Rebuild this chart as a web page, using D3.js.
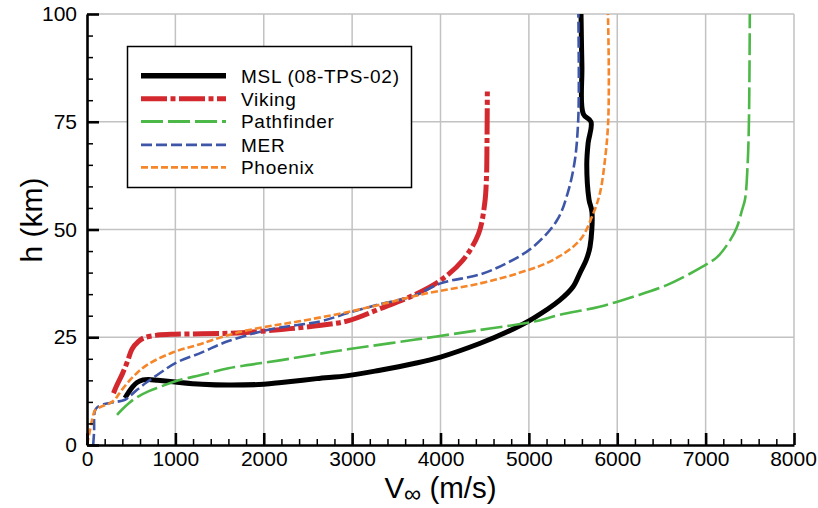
<!DOCTYPE html>
<html>
<head>
<meta charset="utf-8">
<script src="https://cdn.jsdelivr.net/npm/d3@7"></script>
<style>
  html, body { margin: 0; padding: 0; background: #fff; }
  svg { display: block; font-family: "Liberation Sans", Arial, Helvetica, sans-serif; }
</style>
</head>
<body>
<svg id="chart" width="818" height="508"></svg>
<script>
// Entry trajectories: free-stream velocity (m/s) vs altitude (km)
const seriesNames = ["MSL (08-TPS-02)", "Viking", "Pathfinder", "MER", "Phoenix"];

const mslV = [430, 470, 520, 566, 634, 700, 800, 1000, 1300, 1600, 2000, 2200, 2600, 2950, 3300, 3700, 4000, 4450, 4750, 5050, 5350, 5500, 5580, 5650, 5692, 5714, 5680, 5655, 5670, 5703, 5616, 5600, 5590];
const mslH = [10.9, 12.2, 13.6, 14.5, 15.1, 15.2, 15.0, 14.6, 14.1, 13.9, 14.1, 14.5, 15.4, 16.1, 17.3, 18.9, 20.4, 23.6, 26.2, 29.4, 33.6, 36.7, 40, 43, 46, 54, 57, 65, 70, 75, 76.8, 88, 100];

const vikingV = [300, 330, 400, 460, 510, 580, 650, 800, 1000, 1300, 1700, 2200, 2650, 2950, 3300, 3700, 4000, 4250, 4430, 4500, 4520, 4526, 4530];
const vikingH = [12, 13.5, 16.5, 19.5, 22.3, 24, 24.9, 25.5, 25.7, 25.8, 26, 26.8, 27.8, 28.8, 31.5, 34.8, 38.2, 42.8, 49, 56, 62, 70, 82];

const pathfinderV = [340, 400, 480, 566, 700, 826, 1000, 1300, 1600, 2200, 2640, 2950, 3700, 4450, 5050, 5350, 5800, 6180, 6560, 6940, 7130, 7280, 7355, 7412, 7446, 7475, 7490, 7500];
const pathfinderH = [7, 8.3, 9.8, 11.1, 12.5, 13.5, 14.8, 16.3, 17.8, 19.7, 21.2, 22.2, 24.4, 26.7, 28.6, 30.2, 32.1, 34.4, 37.1, 41.1, 43.6, 47.6, 50.6, 54.5, 57, 65, 75, 100];

const merV = [70, 80, 90, 120, 200, 300, 430, 500, 566, 680, 826, 1000, 1300, 1584, 1960, 2200, 2640, 2950, 3300, 3700, 4000, 4450, 4750, 5050, 5320, 5440, 5520, 5555, 5565, 5560];
const merH = [0, 3, 8, 8.8, 9.5, 9.9, 10.5, 11.6, 12.8, 14.6, 16.7, 19, 21.5, 24, 26.3, 27.3, 28.7, 30.6, 32.6, 34.6, 37.5, 39.6, 42.2, 46, 52.2, 58.5, 66, 74, 82, 100];

const phoenixV = [0, 20, 60, 90, 150, 260, 317, 360, 410, 520, 680, 975, 1280, 1650, 2040, 2400, 2940, 3300, 3800, 4450, 4900, 5270, 5580, 5730, 5805, 5860, 5895, 5905, 5895];
const phoenixH = [0, 2, 6, 8, 8.8, 9.7, 10.6, 11.8, 13.2, 15.8, 18.6, 21.5, 23.4, 25.8, 27.5, 28.7, 30.8, 32.5, 35, 37.5, 40, 42.9, 47.6, 53.8, 58.5, 66, 74, 85, 100];

const xTicks = [0, 1000, 2000, 3000, 4000, 5000, 6000, 7000, 8000];
const yTicks = [0, 25, 50, 75, 100];

const seriesV = [mslV, vikingV, pathfinderV, merV, phoenixV];
const seriesH = [mslH, vikingH, pathfinderH, merH, phoenixH];

const styles = [
  { color: "#000000", width: 5,   dash: null },
  { color: "#d3282e", width: 5,   dash: "26,3.5,5,3.5" },
  { color: "#4cb847", width: 2.6, dash: "22,5" },
  { color: "#3e56a8", width: 2.6, dash: "11,4" },
  { color: "#f5862a", width: 2.6, dash: "7,3" }
];

const svg = d3.select("#chart");
const plotLeft = 87, plotRight = 794, plotTop = 14, plotBottom = 445;

const x = d3.scaleLinear().domain([0, 8000]).range([plotLeft, plotRight]);
const y = d3.scaleLinear().domain([0, 100]).range([plotBottom, plotTop]);

// grid
const grid = svg.append("g").attr("stroke", "#c2c2c2").attr("stroke-width", 1.5);
grid.selectAll("line.gx").data(xTicks.filter(d => d > 0)).join("line")
  .attr("class", "gx")
  .attr("x1", d => x(d)).attr("x2", d => x(d)).attr("y1", y(0)).attr("y2", y(100));
grid.selectAll("line.gy").data(yTicks.filter(d => d > 0)).join("line")
  .attr("class", "gy")
  .attr("x1", x(0)).attr("x2", x(8000)).attr("y1", d => y(d)).attr("y2", d => y(d));

// trajectories
const line = d3.line()
  .x(d => x(d[0])).y(d => y(d[1]))
  .curve(d3.curveCatmullRom.alpha(0.5));

seriesNames.forEach((name, i) => {
  const pts = seriesV[i].map((v, k) => [v, seriesH[i][k]]);
  svg.append("path")
    .datum(pts)
    .attr("d", line)
    .attr("fill", "none")
    .attr("stroke", styles[i].color)
    .attr("stroke-width", styles[i].width)
    .attr("stroke-dasharray", styles[i].dash)
    .attr("stroke-linejoin", "round");
});

// minor ticks
const xMinor = d3.range(0, 8001, 200).filter(d => d % 1000 !== 0);
const yMinor = d3.range(0, 101, 5).filter(d => d % 25 !== 0);

const xMinorAxis = svg.append("g").attr("transform", `translate(0,${plotBottom})`)
  .call(d3.axisBottom(x).tickValues(xMinor).tickSize(-6).tickFormat(""));
xMinorAxis.select(".domain").remove();
xMinorAxis.selectAll(".tick line").attr("stroke-width", 1.5);

const yMinorAxis = svg.append("g").attr("transform", `translate(${plotLeft},0)`)
  .call(d3.axisLeft(y).tickValues(yMinor).tickSize(-6).tickFormat(""));
yMinorAxis.select(".domain").remove();
yMinorAxis.selectAll(".tick line").attr("stroke-width", 1.5);

// major axes
const fmt = d3.format("d");
const xAxis = svg.append("g").attr("transform", `translate(0,${plotBottom})`)
  .call(d3.axisBottom(x).tickValues(xTicks).tickFormat(fmt)
    .tickSize(-12).tickSizeOuter(0).tickPadding(6));
const yAxis = svg.append("g").attr("transform", `translate(${plotLeft},0)`)
  .call(d3.axisLeft(y).tickValues(yTicks).tickFormat(fmt)
    .tickSize(-12).tickSizeOuter(0).tickPadding(10));

[xAxis, yAxis].forEach(a => {
  a.select(".domain").attr("stroke-width", 2.6);
  a.selectAll(".tick line").attr("stroke-width", 2.6);
  a.selectAll(".tick text")
    .attr("font-size", 21)
    .attr("font-family", "'Liberation Sans', Arial, sans-serif")
    .attr("fill", "#000");
});
// keep the last label inside the page
xAxis.selectAll(".tick text").filter(d => d === 8000).attr("dx", -1);

// axis titles
const xTitle = svg.append("text")
  .attr("x", x(4000)).attr("y", 498)
  .attr("text-anchor", "middle")
  .attr("font-size", 29.5);
xTitle.append("tspan").text("V");
xTitle.append("tspan").attr("dy", 4).attr("font-size", 24).text("∞");
xTitle.append("tspan").attr("dy", -4).text(" (m/s)");

svg.append("text")
  .attr("transform", "translate(42,220) rotate(-90)")
  .attr("text-anchor", "middle")
  .attr("font-size", 30)
  .text("h (km)");

// legend
const lg = svg.append("g");
lg.append("rect")
  .attr("x", 127.5).attr("y", 46.5).attr("width", 284).attr("height", 141)
  .attr("fill", "#fff").attr("stroke", "#000").attr("stroke-width", 1.5);
const rowY = [75.7, 98.8, 121.5, 144.8, 167.3];
seriesNames.forEach((name, i) => {
  lg.append("line")
    .attr("x1", 141).attr("x2", 226)
    .attr("y1", rowY[i]).attr("y2", rowY[i])
    .attr("stroke", styles[i].color)
    .attr("stroke-width", i === 0 ? 5.5 : (i === 1 ? 5 : 2.8))
    .attr("stroke-dasharray", styles[i].dash);
  lg.append("text")
    .attr("x", 241).attr("y", rowY[i])
    .attr("dy", "0.36em")
    .attr("font-size", 19)
    .attr("letter-spacing", 0.7)
    .text(name);
});
</script>
</body>
</html>
